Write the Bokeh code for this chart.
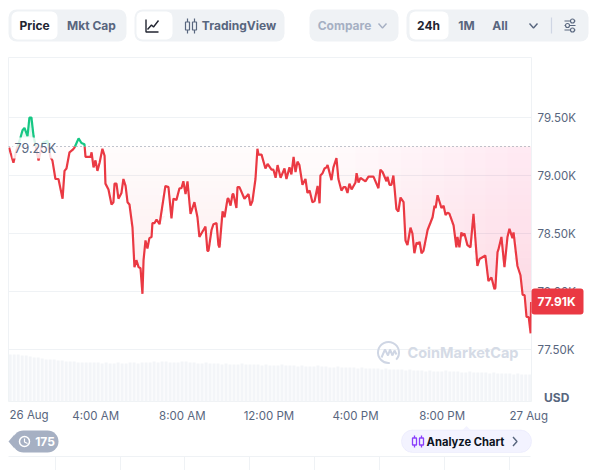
import numpy as np
from bokeh.plotting import figure
from bokeh.layouts import column
from bokeh.models import (BoxAnnotation, FixedTicker, Label, Range1d)
from bokeh.core.properties import value
from bokeh.embed import file_html
from bokeh.resources import INLINE

hours = [0.00,0.06,0.20,0.34,0.53,0.62,0.71,0.85,0.94,1.03,1.13,1.22,1.36,1.54,1.77,1.91,2.00,2.14,2.28,2.47,2.56,2.65,2.79,2.93,3.02,3.21,3.34,3.48,3.53,3.76,3.81,3.90,3.99,4.08,4.18,4.31,4.41,4.45,4.59,4.73,4.82,4.87,4.96,5.05,5.19,5.28,5.38,5.47,5.56,5.70,5.79,5.88,5.98,6.07,6.16,6.21,6.30,6.39,6.48,6.58,6.62,6.72,6.81,6.95,7.22,7.36,7.50,7.59,7.73,7.87,7.96,8.05,8.15,8.24,8.38,8.56,8.70,8.79,9.07,9.16,9.21,9.35,9.44,9.58,9.67,9.72,9.86,9.95,10.09,10.13,10.23,10.32,10.36,10.50,10.55,10.64,10.87,11.06,11.15,11.24,11.38,11.47,11.52,11.66,11.84,11.94,12.12,12.21,12.31,12.40,12.54,12.72,12.81,12.95,13.04,13.14,13.23,13.32,13.41,13.55,13.69,13.78,13.88,14.01,14.11,14.25,14.34,14.38,14.48,14.57,14.66,14.71,14.89,14.98,15.12,15.21,15.35,15.45,15.54,15.63,15.72,15.82,16.00,16.05,16.14,16.23,16.46,16.60,16.83,17.06,17.15,17.25,17.43,17.48,17.57,17.66,17.75,17.80,17.89,17.98,18.08,18.22,18.31,18.40,18.54,18.63,18.72,18.82,18.91,18.96,19.05,19.14,19.33,19.56,19.65,19.70,19.79,19.97,20.07,20.16,20.25,20.34,20.53,20.66,20.71,20.80,20.89,20.94,21.03,21.17,21.31,21.45,21.63,21.73,22.00,22.14,22.28,22.42,22.46,22.56,22.60,22.74,22.88,23.02,23.11,23.25,23.30,23.48,23.62,23.72,23.81,23.90,24.00,24.09,24.11]
prices = [79.24,79.20,79.11,79.22,79.33,79.39,79.41,79.34,79.50,79.50,79.34,79.26,79.13,79.28,79.30,79.16,79.13,78.97,78.97,78.80,79.04,79.06,79.20,79.22,79.24,79.32,79.28,79.27,79.16,79.16,79.20,79.07,79.13,79.04,79.11,79.23,79.17,78.93,78.88,78.75,78.77,78.93,78.93,78.80,78.85,78.97,78.91,78.77,78.75,78.55,78.21,78.27,78.21,78.20,77.98,78.27,78.44,78.37,78.46,78.47,78.59,78.59,78.62,78.58,78.91,78.90,78.63,78.80,78.79,78.89,78.89,78.95,78.84,78.95,78.67,78.77,78.64,78.47,78.56,78.35,78.35,78.53,78.58,78.59,78.40,78.38,78.69,78.64,78.80,78.80,78.74,78.84,78.84,78.72,78.90,78.90,78.80,78.84,78.74,78.78,78.97,79.23,79.18,79.18,79.06,79.10,79.05,79.05,78.98,79.09,78.98,79.06,78.97,79.07,79.01,79.16,79.03,79.12,79.09,78.92,78.97,78.85,78.87,78.77,78.78,78.91,78.76,79.00,79.02,79.06,79.07,79.09,78.96,79.07,79.15,78.97,78.87,78.90,78.90,78.85,78.93,78.88,78.94,79.02,78.94,78.98,78.95,78.99,78.99,78.89,79.05,79.03,78.95,78.99,78.92,78.92,79.00,78.90,78.71,78.69,78.81,78.77,78.44,78.40,78.55,78.50,78.33,78.42,78.41,78.43,78.33,78.35,78.53,78.64,78.74,78.72,78.83,78.72,78.74,78.66,78.68,78.67,78.57,78.38,78.47,78.38,78.51,78.48,78.50,78.40,78.38,78.67,78.22,78.28,78.31,78.09,78.12,78.02,78.03,78.34,78.36,78.47,78.21,78.47,78.54,78.46,78.51,78.22,78.14,77.97,77.97,77.78,77.78,77.64,77.91]
volumes = [47,47,47,46,46,45,44,44,43,42,42,42,41,41,40,40,40,39,39,39,39,39,39,38,39,38,38,39,38,38,39,39,38,39,39,39,40,39,40,40,39,39,39,40,40,39,39,38,38,39,38,38,38,37,38,37,37,37,38,37,37,37,37,36,37,36,36,36,37,36,36,36,35,36,35,35,35,36,35,35,34,34,35,34,34,34,34,33,34,33,33,33,33,32,33,32,32,32,32,31,32,31,31,31,30,31,30,30,30,31,30,30,30,29,29,30,29,29,29,29,28,29,28,28,28,28,27,28,27,27,27]
baseline = 79.25
price_ticks = [77.5, 78.0, 78.5, 79.0, 79.5]
price_labels = ["77.50K", "78.00K", "78.50K", "79.00K", "79.50K"]
time_ticks = [4, 8, 12, 16, 20, 24]
time_labels = ["4:00 AM", "8:00 AM", "12:00 PM", "4:00 PM", "8:00 PM", "27 Aug"]
last_price = "77.91K"

RED, GREEN = "#ea3943", "#16c784"
GRID = "#eff2f5"
GREY = "#58667e"
PILL = "#eff2f5"
FONT = value("Inter")
MAIN_TOP = 50
MAIN_HEIGHT = 375


def X(px):
    return (px - 8.6) / 21.65


def Y(py):
    return 79.5 - (py - 117) / 116


def strip(height, y0, y1):
    f = figure(width=596, height=height, x_range=Range1d(0, 596), y_range=Range1d(y1, y0),
               output_backend="svg", toolbar_location=None,
               x_axis_location=None, y_axis_location=None, min_border=0)
    f.frame_align = False
    f.grid.visible = False
    f.outline_line_color = None
    return f


def pill(f, x0, x1, y0, y1, color, radius=8, line=None):
    f.add_layout(BoxAnnotation(left=x0, right=x1, top=y0, bottom=y1, fill_color=color, fill_alpha=1,
                               line_color=line, border_radius=radius, level="underlay"))


def words(f, x, y, s, size="12px", color=GREY, style="bold", align="center"):
    f.text([x], [y], text=[s], text_font=FONT, text_font_size=size, text_color=color,
           text_font_style=style, text_align=align, text_baseline="middle")


# ---------- top strip ----------
top = strip(MAIN_TOP, 0, MAIN_TOP)
pill(top, 8, 126, 9, 41, PILL)
pill(top, 11, 57, 11, 39, "#ffffff", 6)
words(top, 34, 25, "Price", color="#222531")
words(top, 91, 25, "Mkt Cap")
pill(top, 134, 284, 9, 41, PILL)
pill(top, 136, 172, 11, 39, "#ffffff", 6)
top.line([145.5, 145.5, 158], [19, 31.5, 31.5], line_color="#222531", line_width=1.4)
top.line([147, 151, 153, 158], [29, 24.5, 26.5, 20], line_color="#222531", line_width=1.4)
for cx in (187, 194):
    top.line([cx, cx], [18, 33], line_color=GREY, line_width=1.2)
    top.rect([cx], [25.5], width=4, height=8, fill_color=PILL, line_color=GREY, line_width=1.2)
words(top, 238.5, 25, "TradingView")
pill(top, 309, 398, 9, 41, PILL)
words(top, 344, 25, "Compare", color="#a6b0c3")
top.line([378, 382, 386], [23, 27.5, 23], line_color="#a6b0c3", line_width=1.4)
pill(top, 406, 588, 9, 41, PILL)
pill(top, 409, 448, 11, 39, "#ffffff", 6)
words(top, 428, 25, "24h", color="#222531")
words(top, 466, 25, "1M")
words(top, 499.5, 25, "All")
top.line([529, 533, 537], [23, 27.5, 23], line_color=GREY, line_width=1.4)
top.line([551, 551], [17, 33], line_color="#cfd6e4", line_width=1.2)
for ly, lx in ((20.5, 572), (25, 567), (29.5, 572)):
    top.line([564, 575], [ly, ly], line_color=GREY, line_width=1.2)
    top.scatter([lx], [ly], size=4, fill_color=PILL, line_color=GREY, line_width=1.1)

# ---------- main chart ----------
h = np.array(hours, float)
pr = np.array(prices, float)
hh, pp = [h[0]], [pr[0]]
for i in range(1, len(h)):
    if (pr[i - 1] - baseline) * (pr[i] - baseline) < 0:
        t = (baseline - pr[i - 1]) / (pr[i] - pr[i - 1])
        hh.append(h[i - 1] + t * (h[i] - h[i - 1]))
        pp.append(baseline)
    hh.append(h[i])
    pp.append(pr[i])
hh, pp = np.array(hh), np.array(pp)

main = figure(width=596, height=MAIN_HEIGHT, x_range=Range1d(X(8), X(531)), y_range=Range1d(Y(401), Y(57)),
              output_backend="svg", toolbar_location=None,
              x_axis_location="below", y_axis_location="right",
              min_border_left=8, min_border_right=65, min_border_top=7, min_border_bottom=21)
main.frame_align = False
main.extra_y_ranges = {"vol": Range1d(0, 344)}
main.outline_line_color = GRID
main.xgrid.visible = False
main.ygrid.grid_line_color = GRID
main.ygrid.ticker = FixedTicker(ticks=price_ticks)
ax = main.yaxis[0]
ax.ticker = FixedTicker(ticks=price_ticks)
ax.major_label_overrides = dict(zip(price_ticks, price_labels))
xa = main.xaxis[0]
xa.ticker = FixedTicker(ticks=time_ticks)
xa.major_label_overrides = dict(zip(time_ticks, time_labels))
for a in (ax, xa):
    a.axis_line_color = None
    a.major_tick_line_color = None
    a.minor_tick_line_color = None
    a.major_label_text_font = "Inter"
    a.major_label_text_font_size = "11.5px"
    a.major_label_text_color = GREY
ax.major_label_standoff = 0
xa.major_label_standoff = 1

main.vbar(x=np.arange(len(volumes)) * 24 / (len(volumes) - 1) + 0.05, width=0.14, top=volumes, bottom=0,
          y_range_name="vol", fill_color="#f3f5f8", line_color=None)

# gradient fill under the baseline, growing downwards
edges = np.arange(baseline, 77.55, -0.06)
for hi, lo in zip(edges[:-1], edges[1:]):
    a = 0.015 + 0.10 * (baseline - (hi + lo) / 2) / (baseline - 77.6)
    main.varea(x=hh, y1=np.clip(pp, lo, hi), y2=hi, fill_color=RED, fill_alpha=a)
# ... and deepening towards the right
for edge in np.arange(15.0, 24.0, 1.0):
    m = hh >= edge
    main.varea(x=hh[m], y1=np.minimum(pp[m], baseline), y2=baseline, fill_color=RED, fill_alpha=0.007)
# gradient fill above the baseline
edges_up = np.arange(baseline, 79.53, 0.04)
for lo, hi in zip(edges_up[:-1], edges_up[1:]):
    a = 0.02 + 0.2 * ((hi + lo) / 2 - baseline) / 0.25
    main.varea(x=hh, y1=lo, y2=np.clip(pp, lo, hi), fill_color=GREEN, fill_alpha=a)

# watermark
main.text([X(407)], [Y(352)], text=["CoinMarketCap"], text_font=FONT, text_font_size="14.5px",
          text_font_style="bold", text_color="#d5dbe6", text_baseline="middle", text_align="left")
main.arc([X(388)], [Y(352)], radius=10.5, radius_units="screen", start_angle=-0.75, end_angle=-1.45,
         direction="anticlock", line_color="#cfd6e4", line_width=2)
main.line([X(381), X(384.5), X(387.5), X(389.5), X(392), X(394), X(396)],
          [Y(357), Y(349), Y(355), Y(349), Y(355), Y(350), Y(354)], line_color="#cfd6e4", line_width=2)

main.line([X(8), X(531)], [baseline, baseline], line_color="#808a9d", line_width=1, line_dash="1 3")
main.line(hh, np.where(pp <= baseline, pp, np.nan), line_color=RED, line_width=2.2)
main.line(hh, np.where(pp >= baseline, pp, np.nan), line_color=GREEN, line_width=2.2)

main.add_layout(BoxAnnotation(left=X(12), right=X(53), top=Y(137), bottom=Y(158), fill_color="#ffffff",
                              fill_alpha=0.82, line_color=None))
main.add_layout(Label(x=X(14), y=Y(148), text="79.25K", text_font="Inter", text_font_size="12.5px",
                      text_color=GREY, text_baseline="middle"))

# ---------- bottom strip ----------
BOT_TOP = MAIN_TOP + MAIN_HEIGHT
bot = strip(470 - BOT_TOP, BOT_TOP, 470)
bot.line([8, 530], [456, 456], line_color=GRID, line_width=1)
for vx in (55, 120, 184, 249, 314, 379, 444, 509):
    bot.line([vx, vx], [456, 470], line_color=GRID, line_width=1)
bot.patch([14, 8, 14], [434, 441, 448], fill_color="#a6b0c3", line_color=None)
pill(bot, 12, 58, 430, 452, "#a6b0c3", 11)
bot.circle([24], [441], radius=5, radius_units="screen", fill_color=None, line_color="#ffffff", line_width=1.5)
bot.line([24, 24, 27], [438, 441.5, 443], line_color="#ffffff", line_width=1.2)
words(bot, 44.5, 441, "175", color="#ffffff")
pill(bot, 401, 531, 429.5, 452, "#f3f3ff", 11, "#dcdcf8")
bot.patch([462, 466, 470], [429.5, 425.5, 429.5], fill_color="#f3f3ff", line_color=None)
for cx in (414, 421):
    bot.line([cx, cx], [435, 447], line_color="#8a3ffc", line_width=1.3)
    bot.rect([cx], [441], width=4, height=7, fill_color="#f3f3ff", line_color="#8a3ffc", line_width=1.3)
words(bot, 465, 441, "Analyze Chart", size="11.2px", color="#0d1421")
bot.line([512.5, 516.5, 512.5], [436.5, 441, 445.5], line_color=GREY, line_width=1.4)

# ---------- transparent sheet over the chart, for what sits across the frame edges ----------
sheet = strip(470, 0, 470)
sheet.background_fill_alpha = 0
sheet.border_fill_alpha = 0
sheet.styles = {"position": "absolute", "left": "0px", "top": "0px"}
words(sheet, 9, 414, "26 Aug", size="11.5px", style="normal", align="left")
words(sheet, 543.5, 397, "USD", align="left")
pill(sheet, 531, 583, 288, 314, RED, 3)
words(sheet, 537, 301, last_price, color="#ffffff", align="left")

open("out.html", "w").write(file_html(column(top, main, bot, sheet, spacing=0), INLINE))
